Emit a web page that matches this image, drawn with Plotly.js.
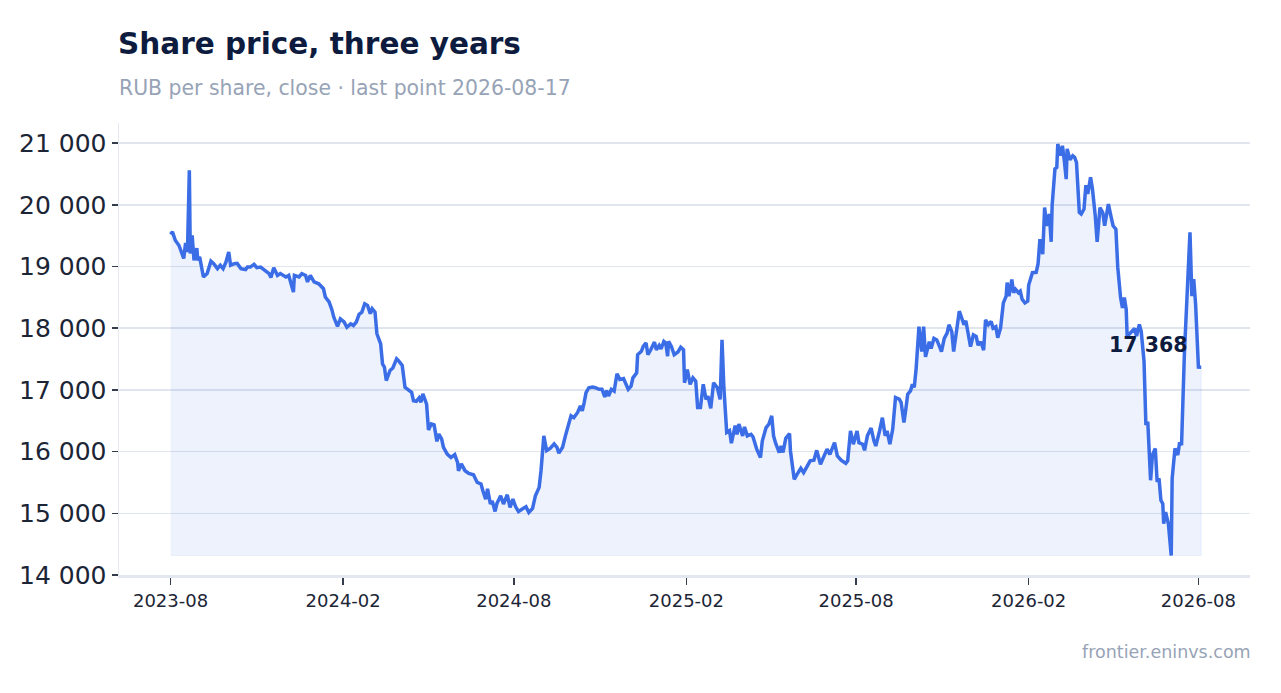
<!DOCTYPE html>
<html>
<head>
<meta charset="utf-8">
<script src="https://cdn.plot.ly/plotly-3.0.1.min.js"></script>
<style>
  html, body { margin: 0; padding: 0; background: #ffffff; }
  #chart { width: 1281px; height: 693px; }
</style>
</head>
<body>
<div id="chart"></div>
<script>
'use strict';

// daily close, RUB per share
const dates = [
  '2023-08-01','2023-08-03','2023-08-06','2023-08-10','2023-08-15','2023-08-17','2023-08-19','2023-08-21','2023-08-22','2023-08-24',
  '2023-08-26','2023-08-29','2023-08-30','2023-09-01','2023-09-05','2023-09-09','2023-09-13','2023-09-16','2023-09-20','2023-09-23',
  '2023-09-26','2023-09-29','2023-10-02','2023-10-04','2023-10-08','2023-10-11','2023-10-15','2023-10-20','2023-10-22','2023-10-25',
  '2023-10-29','2023-11-01','2023-11-05','2023-11-10','2023-11-14','2023-11-16','2023-11-19','2023-11-23','2023-11-26','2023-12-02',
  '2023-12-05','2023-12-10','2023-12-11','2023-12-16','2023-12-19','2023-12-23','2023-12-25','2023-12-28','2024-01-01','2024-01-06',
  '2024-01-11','2024-01-13','2024-01-17','2024-01-20','2024-01-22','2024-01-26','2024-01-29','2024-02-02','2024-02-05','2024-02-09',
  '2024-02-12','2024-02-15','2024-02-18','2024-02-21','2024-02-24','2024-02-27','2024-03-01','2024-03-03','2024-03-06','2024-03-08',
  '2024-03-12','2024-03-14','2024-03-16','2024-03-18','2024-03-22','2024-03-25','2024-03-29','2024-03-31','2024-04-03','2024-04-04',
  '2024-04-07','2024-04-10','2024-04-14','2024-04-16','2024-04-19','2024-04-22','2024-04-24','2024-04-26','2024-04-30','2024-05-02',
  '2024-05-05','2024-05-08','2024-05-11','2024-05-13','2024-05-16','2024-05-18','2024-05-22','2024-05-26','2024-05-30','2024-06-02',
  '2024-06-03','2024-06-06','2024-06-10','2024-06-14','2024-06-19','2024-06-23','2024-06-27','2024-06-29','2024-07-02','2024-07-04',
  '2024-07-07','2024-07-09','2024-07-12','2024-07-14','2024-07-18','2024-07-21','2024-07-25','2024-07-28','2024-07-31','2024-08-03',
  '2024-08-06','2024-08-10','2024-08-14','2024-08-17','2024-08-21','2024-08-24','2024-08-28','2024-08-30','2024-09-02','2024-09-05',
  '2024-09-09','2024-09-13','2024-09-16','2024-09-18','2024-09-22','2024-09-25','2024-09-29','2024-10-01','2024-10-04','2024-10-08',
  '2024-10-11','2024-10-13','2024-10-15','2024-10-17','2024-10-20','2024-10-24','2024-10-27','2024-10-31','2024-11-03','2024-11-06',
  '2024-11-08','2024-11-10','2024-11-13','2024-11-16','2024-11-19','2024-11-22','2024-11-26','2024-11-28','2024-12-01','2024-12-04',
  '2024-12-06','2024-12-10','2024-12-11','2024-12-15','2024-12-17','2024-12-20','2024-12-22','2024-12-25','2024-12-29','2024-12-31',
  '2025-01-03','2025-01-05','2025-01-08','2025-01-10','2025-01-12','2025-01-13','2025-01-16','2025-01-19','2025-01-23','2025-01-26',
  '2025-01-29','2025-01-30','2025-02-02','2025-02-05','2025-02-08','2025-02-11','2025-02-13','2025-02-16','2025-02-19','2025-02-22',
  '2025-02-24','2025-02-27','2025-03-02','2025-03-06','2025-03-09','2025-03-11','2025-03-13','2025-03-16','2025-03-19','2025-03-21',
  '2025-03-25','2025-03-27','2025-03-29','2025-04-02','2025-04-04','2025-04-07','2025-04-11','2025-04-13','2025-04-17','2025-04-21',
  '2025-04-23','2025-04-27','2025-04-30','2025-05-03','2025-05-05','2025-05-07','2025-05-11','2025-05-13','2025-05-15','2025-05-18',
  '2025-05-22','2025-05-23','2025-05-27','2025-05-30','2025-06-03','2025-06-06','2025-06-09','2025-06-13','2025-06-17','2025-06-20',
  '2025-06-24','2025-06-27','2025-07-01','2025-07-04','2025-07-09','2025-07-12','2025-07-16','2025-07-21','2025-07-23','2025-07-26',
  '2025-07-29','2025-08-02','2025-08-04','2025-08-08','2025-08-10','2025-08-13','2025-08-17','2025-08-20','2025-08-22','2025-08-26',
  '2025-08-29','2025-09-01','2025-09-03','2025-09-06','2025-09-09','2025-09-12','2025-09-16','2025-09-18','2025-09-21','2025-09-23',
  '2025-09-25','2025-09-28','2025-09-30','2025-10-02','2025-10-04','2025-10-07','2025-10-10','2025-10-12','2025-10-14','2025-10-18',
  '2025-10-20','2025-10-23','2025-10-26','2025-10-29','2025-10-31','2025-11-03','2025-11-06','2025-11-08','2025-11-11','2025-11-13',
  '2025-11-16','2025-11-19','2025-11-21','2025-11-24','2025-11-26','2025-11-28','2025-12-01','2025-12-04','2025-12-07','2025-12-09',
  '2025-12-12','2025-12-15','2025-12-17','2025-12-20','2025-12-23','2025-12-25','2025-12-28','2025-12-30','2026-01-02','2026-01-05',
  '2026-01-08','2026-01-09','2026-01-11','2026-01-14','2026-01-16','2026-01-18','2026-01-21','2026-01-23','2026-01-25','2026-01-28',
  '2026-01-31','2026-02-01','2026-02-05','2026-02-09','2026-02-11','2026-02-13','2026-02-16','2026-02-18','2026-02-20','2026-02-23',
  '2026-02-25','2026-02-26','2026-03-01','2026-03-03','2026-03-04','2026-03-07','2026-03-09','2026-03-11','2026-03-13','2026-03-14',
  '2026-03-17','2026-03-20','2026-03-22','2026-03-24','2026-03-27','2026-03-29','2026-04-01','2026-04-03','2026-04-05','2026-04-08',
  '2026-04-10','2026-04-13','2026-04-15','2026-04-18','2026-04-21','2026-04-23','2026-04-27','2026-04-30','2026-05-02','2026-05-05',
  '2026-05-07','2026-05-10','2026-05-12','2026-05-14','2026-05-16','2026-05-17','2026-05-20','2026-05-23','2026-05-25','2026-05-27',
  '2026-05-30','2026-06-01','2026-06-04','2026-06-06','2026-06-08','2026-06-11','2026-06-13','2026-06-16','2026-06-18','2026-06-20',
  '2026-06-22','2026-06-24','2026-06-25','2026-06-27','2026-06-30','2026-07-03','2026-07-04','2026-07-07','2026-07-10','2026-07-12',
  '2026-07-14','2026-07-17','2026-07-19','2026-07-20','2026-07-23','2026-07-25','2026-07-27','2026-07-29','2026-08-01','2026-08-04'
];

const prices = [
  19520,19560,19425,19340,19130,19380,19235,20560,19210,19505,
  19100,19295,19100,19155,18830,18885,19085,19045,18965,19020,
  18965,19070,19235,19020,19045,19050,18965,18950,18990,18990,
  19035,18980,18990,18935,18885,18820,18980,18855,18885,18830,
  18855,18585,18855,18830,18885,18855,18750,18855,18750,18720,
  18640,18505,18425,18300,18180,18030,18150,18100,18015,18070,
  18045,18100,18225,18260,18395,18370,18235,18315,18260,17910,
  17745,17420,17370,17150,17315,17355,17505,17475,17410,17395,
  17040,17010,16960,16825,16815,16870,16800,16935,16770,16350,
  16450,16435,16165,16285,16205,16070,15960,15905,15950,15825,
  15690,15800,15690,15645,15625,15500,15475,15365,15230,15395,
  15150,15200,15030,15160,15285,15150,15300,15095,15230,15105,
  15030,15070,15105,15015,15080,15285,15420,15690,16255,16015,
  16055,16125,16070,15975,16070,16255,16500,16580,16550,16635,
  16740,16660,16795,16955,17035,17045,17035,17010,17010,16885,
  16990,16900,17010,16980,17260,17170,17185,17115,17010,17060,
  17195,17275,17570,17625,17705,17760,17570,17650,17775,17650,
  17720,17665,17785,17760,17545,17785,17705,17570,17615,17690,
  17650,17115,17330,17090,17195,17140,16715,16715,17090,16845,
  16900,16700,17115,17035,16845,17810,17035,16310,16340,16135,
  16420,16280,16445,16255,16400,16255,16280,16240,16040,15905,
  16175,16390,16445,16580,16255,16145,15985,16090,15985,16215,
  16290,16010,15550,15630,15730,15660,15740,15850,15860,16020,
  15795,15905,16040,15955,16145,15930,15860,15810,15850,16335,
  16120,16335,16145,16120,16020,16255,16380,16175,16090,16335,
  16550,16255,16335,16120,16360,16875,16850,16795,16470,16685,
  16930,16985,17090,17040,17345,18025,17620,18025,17535,17780,
  17670,17835,17810,17700,17620,17835,17920,18055,17945,17620,
  17920,18275,18190,18055,18120,17945,17700,17890,17865,17725,
  17780,17645,18135,18055,18110,18000,18025,17845,18000,18410,
  18520,18740,18520,18790,18575,18630,18575,18600,18470,18410,
  18440,18700,18900,18905,19040,19445,19200,19955,19660,19850,
  19400,19985,20580,20605,20985,20795,20955,20715,20415,20905,
  20730,20795,20770,20685,19875,19850,19930,20320,20175,20445,
  20255,19820,19400,19955,19875,19660,20010,19795,19660,19605,
  18985,18495,18330,18495,18305,17870,17925,17980,17995,17870,
  18060,17950,17465,16430,16485,15535,15945,16050,15510,15565,
  15210,15155,14830,15020,14830,14315,15565,16050,15945,16150,
  16105,17570,18225,18660,19555,18520,18795,18385,17370,17368
];

const title = 'Share price, three years';
const subtitle = 'RUB per share, close · last point 2026-08-17';
const source = 'frontier.eninvs.com';
const yTicks = [14000, 15000, 16000, 17000, 18000, 19000, 20000, 21000];

const FONT = 'DejaVu Sans, sans-serif';
const NAVY = '#0d1b3e';
const MUTED = '#97a3b6';
const BLUE = '#3a6de6';

const base = Math.min(...prices);
const lastDate = dates[dates.length - 1];
const lastPrice = prices[prices.length - 1];
const fmt = v => String(v).replace(/\B(?=(\d{3})+(?!\d))/g, ' ');

const area = {
    x: dates.concat([lastDate, dates[0]]),
    y: prices.concat([base, base]),
    type: 'scatter',
    mode: 'lines',
    fill: 'toself',
    fillcolor: 'rgba(58,109,230,0.09)',
    line: { color: 'rgba(58,109,230,0.07)', width: 1 },
    hoverinfo: 'skip'
};

const line = {
    x: dates,
    y: prices,
    type: 'scatter',
    mode: 'lines',
    line: { color: BLUE, width: 3.5 },
    name: 'Close'
};

const layout = {
    width: 1281,
    height: 693,
    margin: { l: 119, r: 31, t: 123, b: 118 },
    paper_bgcolor: '#ffffff',
    plot_bgcolor: '#ffffff',
    showlegend: false,
    separators: '. ',
    font: { family: FONT, color: '#1c2536' },
    xaxis: {
        type: 'date',
        range: ['2023-06-07', '2026-09-25'],
        dtick: 'M6',
        tick0: '2023-08-01',
        tickformat: '%Y-%m',
        showgrid: false,
        zeroline: false,
        showline: true,
        linecolor: '#e3e7ef',
        linewidth: 3,
        ticks: 'outside',
        ticklen: 7,
        tickwidth: 1.5,
        tickcolor: '#333b4d',
        tickfont: { size: 18, color: '#1c2536' }
    },
    yaxis: {
        range: [14000, 21325],
        tickvals: yTicks,
        ticktext: yTicks.map(fmt),
        showgrid: true,
        gridcolor: '#e1e5ee',
        gridwidth: 1.5,
        zeroline: false,
        showline: true,
        linecolor: '#e6e9f0',
        linewidth: 1.5,
        ticks: 'outside',
        ticklen: 6,
        tickwidth: 1.5,
        tickcolor: '#333b4d',
        tickfont: { size: 25, color: '#1c2536' }
    },
    annotations: [
        {
            xref: 'paper', yref: 'paper', x: 0, y: 1.175,
            xanchor: 'left', yanchor: 'middle', showarrow: false,
            xshift: -3,
            text: '<b>' + title + '</b>',
            font: { family: FONT, size: 29.5, color: NAVY }
        },
        {
            xref: 'paper', yref: 'paper', x: 0, y: 1.0774,
            xanchor: 'left', yanchor: 'middle', showarrow: false,
            xshift: -2,
            text: subtitle,
            font: { family: FONT, size: 20.4, color: MUTED }
        },
        {
            xref: 'paper', yref: 'paper', x: 1, y: -0.17,
            xanchor: 'right', yanchor: 'middle', showarrow: false,
            xshift: 3,
            text: source,
            font: { family: FONT, size: 17.5, color: MUTED }
        },
        {
            x: lastDate, y: lastPrice,
            xanchor: 'right', yanchor: 'bottom', showarrow: false,
            xshift: -12, yshift: 8,
            text: '<b>' + fmt(lastPrice) + '</b>',
            font: { family: FONT, size: 20.5, color: NAVY }
        }
    ]
};

Plotly.newPlot('chart', [area, line], layout, { displayModeBar: false, staticPlot: true });
</script>
</body>
</html>
